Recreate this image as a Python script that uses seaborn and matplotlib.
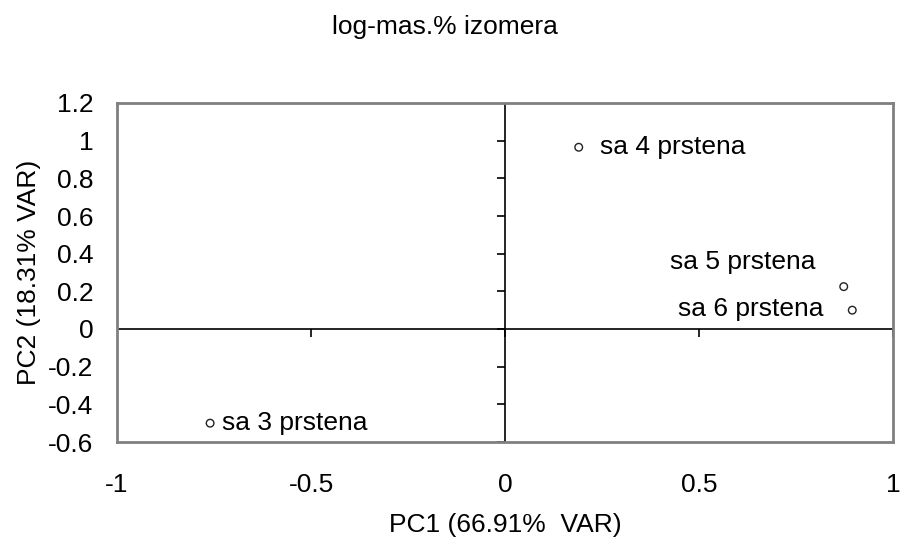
import matplotlib
matplotlib.use("Agg")
import matplotlib.pyplot as plt
import seaborn as sns
import pandas as pd

# PCA scores for the ring-count groups
groups = ["sa 3 prstena", "sa 4 prstena", "sa 5 prstena", "sa 6 prstena"]
pc1 = [-0.76, 0.19, 0.873, 0.895]
pc2 = [-0.50, 0.965, 0.225, 0.10]

x_ticks = [-1, -0.5, 0, 0.5, 1]
x_tick_labels = ["-1", "-0.5", "0", "0.5", "1"]
y_ticks = [-0.6, -0.4, -0.2, 0, 0.2, 0.4, 0.6, 0.8, 1.0, 1.2]
y_tick_labels = ["-0.6", "-0.4", "-0.2", "0", "0.2", "0.4", "0.6", "0.8", "1", "1.2"]

title = "log-mas.% izomera"
x_label = "PC1 (66.91%  VAR)"
y_label = "PC2 (18.31% VAR)"

df = pd.DataFrame({"group": groups, "PC1": pc1, "PC2": pc2})

sns.set_theme(style="white")
plt.rcParams["font.family"] = ["Liberation Sans", "DejaVu Sans"]
plt.rcParams["text.color"] = "black"
plt.rcParams["axes.labelcolor"] = "black"
plt.rcParams["xtick.color"] = "black"
plt.rcParams["ytick.color"] = "black"
fs = 19

fig = plt.figure(figsize=(9.01, 5.38), dpi=100)
ax = fig.add_axes([117 / 901, 1 - 442 / 538, 776 / 901, 339 / 538])

sns.scatterplot(data=df, x="PC1", y="PC2", ax=ax, marker="o", s=30,
                facecolor="none", edgecolor="#222222", linewidth=1.0,
                legend=False, zorder=3)

ax.set_xlim(-1, 1)
ax.set_ylim(-0.6, 1.2)
ax.set_xticks(x_ticks)
ax.set_xticklabels(x_tick_labels, fontsize=fs)
ax.set_yticks(y_ticks)
ax.set_yticklabels(y_tick_labels, fontsize=fs)
ax.tick_params(axis="x", length=0, pad=22)
ax.tick_params(axis="y", length=0, pad=17)

for sp in ax.spines.values():
    sp.set_color("#808080")
    sp.set_linewidth(2)

# Axes through the origin with their tick marks
ax.axhline(0, color="black", lw=1.2, zorder=1)
ax.axvline(0, color="black", lw=1.2, zorder=1)
ax.vlines(x_ticks, -0.042, 0, color="black", lw=1.2, zorder=1)
ax.hlines(y_ticks, -0.02, 0, color="black", lw=1.2, zorder=1)

# Point labels
offsets = {
    "sa 3 prstena": (12, 0, "left"),
    "sa 4 prstena": (21, 0, "left"),
    "sa 5 prstena": (-28, 25, "right"),
    "sa 6 prstena": (-29, 1, "right"),
}
for g, x, y in zip(groups, pc1, pc2):
    dx, dy, ha = offsets[g]
    ax.annotate(g, (x, y), xytext=(dx, dy), textcoords="offset pixels",
                ha=ha, va="center", fontsize=fs, color="black")

ax.set_xlabel(x_label, fontsize=fs, labelpad=12)
ax.set_ylabel(y_label, fontsize=fs, labelpad=5)
fig.text(445 / 901, 1 - 27 / 538, title, ha="center", va="center", fontsize=fs)

fig.savefig("out.png", dpi=100)
